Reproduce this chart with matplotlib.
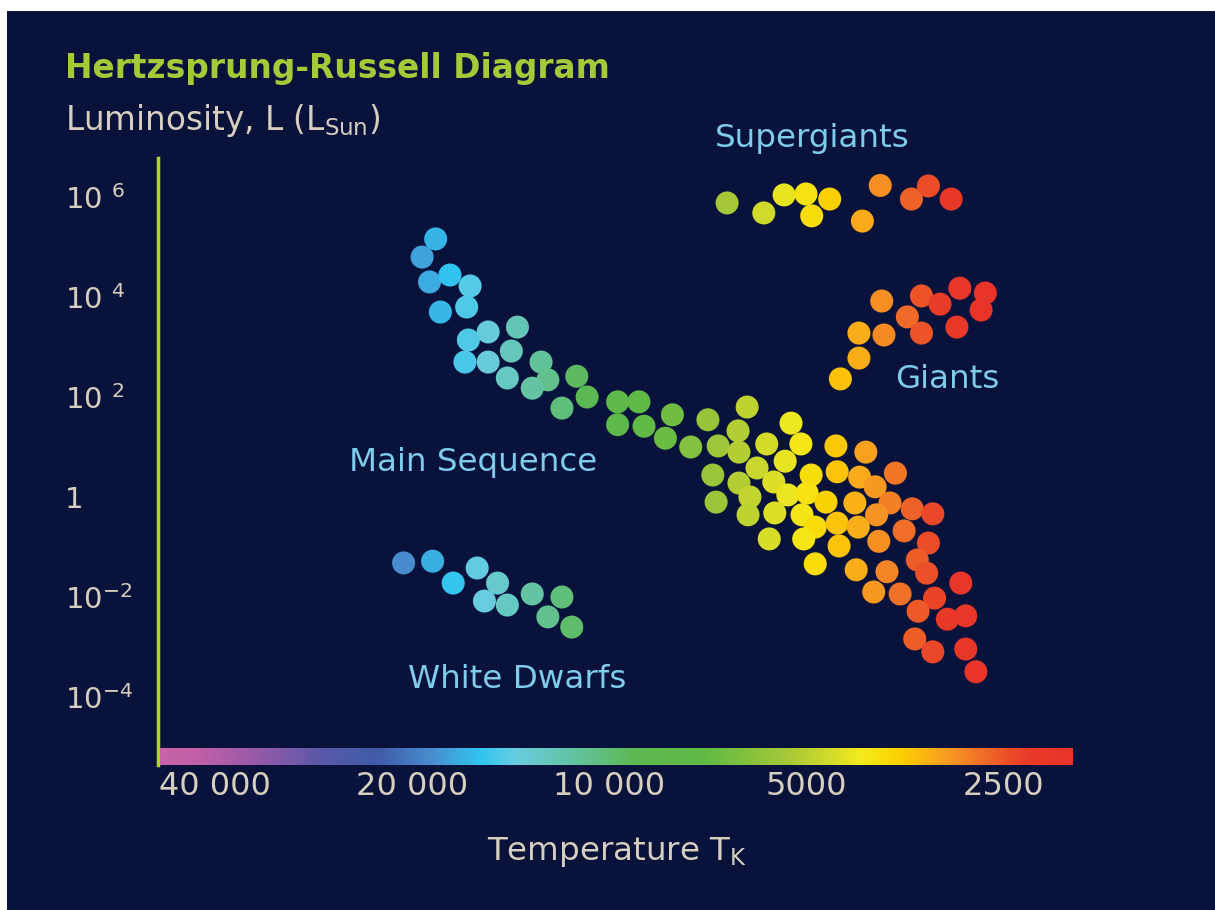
import matplotlib
matplotlib.use('Agg')
import matplotlib.pyplot as plt
from matplotlib.colors import LinearSegmentedColormap, LogNorm
from matplotlib.patches import Rectangle
from matplotlib.ticker import NullLocator
import matplotlib.cm as cm

# star positions: temperature (K) and luminosity (L_sun)
super_temp = [6600, 5800, 5400, 5000, 4900, 4600, 4100, 3850, 3450, 3250, 3000]
super_lum = [7.6e5, 4.8e5, 1.1e6, 1.15e6, 4.2e5, 9.1e5, 3.3e5, 1.7e6, 9.1e5, 1.66e6, 9.1e5]

giant_temp = [3830, 3330, 3120, 2910, 2660, 3500, 2700, 4150, 3800, 3330, 2940, 4150, 4430]
giant_lum = [8300, 1.05e4, 7200, 1.5e4, 1.2e4, 4000, 5500, 1900, 1740, 1900, 2500, 600, 230]

ms_temp = [18400, 19300, 18800, 17500, 16300, 18100, 16500, 15300, 16400, 13800,
           16600, 15300, 14100, 12700, 14300, 12400, 13100, 11200, 10800, 11800,
           9700, 9000, 9700, 8840, 8000, 8200, 7500, 7060, 6150, 6810,
           6350, 6330, 5740, 6940, 6330, 5940, 6090, 6860, 6130, 5690,
           5580, 5270, 5090, 5380, 4500, 4050, 5600, 4910, 4480, 4140,
           3650, 3920, 5330, 4980, 4660, 4210, 3720, 3440, 3200, 5070,
           4840, 4480, 4160, 3900, 3540, 5040, 4450, 3870, 3250, 3380,
           4840, 4190, 3760, 3270, 2900, 3940, 3590, 3180, 3370, 3040,
           2850, 3410, 3200, 2850, 2750]
ms_lum = [1.45e5, 6.3e4, 2.0e4, 2.75e4, 1.66e4, 5000, 6300, 2000, 1380, 2500,
          500, 500, 830, 500, 240, 220, 150, 260, 100, 60,
          80, 80, 28, 26, 44, 15, 10, 35, 63, 10.5,
          21, 7.9, 11.5, 2.75, 1.9, 3.8, 1.0, 0.79, 0.44, 0.145,
          0.48, 30, 11.5, 5.2, 10.5, 7.9, 2.0, 2.75, 3.2, 2.5,
          3.0, 1.6, 1.1, 1.2, 0.79, 0.76, 0.76, 0.58, 0.46, 0.44,
          0.25, 0.30, 0.25, 0.44, 0.21, 0.145, 0.105, 0.13, 0.12, 0.055,
          0.046, 0.035, 0.032, 0.030, 0.019, 0.0126, 0.0115, 0.0095, 0.0052, 0.0036,
          0.0042, 0.00145, 0.0008, 0.00091, 0.00032]

wd_temp = [20600, 18600, 17300, 15900, 14800, 15500, 14300, 13100, 11800, 12400, 11400]
wd_lum = [0.048, 0.052, 0.019, 0.038, 0.019, 0.0083, 0.0069, 0.0115, 0.010, 0.004, 0.0025]

x_ticks = [40000, 20000, 10000, 5000, 2500]
x_labels = ['40 000', '20 000', '10 000', '5000', '2500']
y_ticks = [1e6, 1e4, 1e2, 1, 1e-2, 1e-4]
y_labels = [r'$10^{\;\,6}$', r'$10^{\;\,4}$', r'$10^{\;\,2}$', '1', r'$10^{-2}$', r'$10^{-4}$']

bg = '#09123a'
text_col = '#d6cebe'
green = '#a6c93a'
line_green = '#b2d234'
blue_txt = '#7fcbea'

stops = [(0.00, '#c562a9'), (0.04, '#c060a8'), (0.10, '#9a5aa8'), (0.18, '#5558a8'),
         (0.24, '#3f5ca8'), (0.30, '#4890d0'), (0.35, '#30c4f0'), (0.39, '#68cce0'),
         (0.46, '#62c29a'), (0.52, '#5cb850'), (0.60, '#62ba44'), (0.69, '#a8c838'),
         (0.77, '#f3ea1e'), (0.81, '#fcd200'), (0.86, '#f8a020'), (0.90, '#f07028'),
         (0.95, '#e83a28'), (1.00, '#e83428')]
hr_cmap = LinearSegmentedColormap.from_list('hr', stops).reversed()

W, H = 1215, 910
fig = plt.figure(figsize=(W / 100, H / 100), dpi=100, facecolor='white')
fig.patches.append(Rectangle((7 / W, 0), 1, 1 - 11 / H, transform=fig.transFigure,
                             facecolor=bg, edgecolor='none', zorder=-10))

ax = fig.add_axes([158 / W, 145 / H, 915 / W, 607 / H])
ax.set_facecolor(bg)
ax.set_xscale('log')
ax.set_yscale('log')
ax.set_xlim(48884, 1954)
ax.set_ylim(10 ** -5.36, 10 ** 6.78)

temps = super_temp + giant_temp + ms_temp + wd_temp
lums = super_lum + giant_lum + ms_lum + wd_lum
ax.scatter(temps, lums, c=temps, cmap=hr_cmap, norm=LogNorm(vmin=2663, vmax=48540),
           s=275, linewidths=0, zorder=3)

for side in ['top', 'right', 'bottom']:
    ax.spines[side].set_visible(False)
ax.spines['left'].set_color(line_green)
ax.spines['left'].set_linewidth(2.5)

ax.xaxis.set_minor_locator(NullLocator())
ax.yaxis.set_minor_locator(NullLocator())
ax.set_xticks(x_ticks)
ax.set_xticklabels(x_labels)
ax.set_yticks(y_ticks)
ax.set_yticklabels(y_labels)
ax.tick_params(axis='x', length=0, pad=4, labelsize=23, colors=text_col)
ax.tick_params(axis='y', length=0, pad=67, labelsize=21, colors=text_col)
for lab in ax.get_yticklabels():
    lab.set_horizontalalignment('left')

# gradient bar along the temperature axis
cax = fig.add_axes([160 / W, 145 / H, 913 / W, 17 / H])
sm = cm.ScalarMappable(norm=LogNorm(vmin=1954, vmax=48540), cmap=hr_cmap)
cb = fig.colorbar(sm, cax=cax, orientation='horizontal')
cb.outline.set_visible(False)
cax.invert_xaxis()
cax.tick_params(which='both', length=0, labelbottom=False)

def px(x, y):
    return x / W, 1 - y / H

fig.text(*px(65, 78), 'Hertzsprung-Russell Diagram', color=green, fontsize=23.7,
         fontweight='bold', va='baseline')
fig.text(*px(65, 130), r'Luminosity, L (L$_{\mathrm{Sun}}$)', color=text_col,
         fontsize=23.5, va='baseline')
fig.text(*px(715, 147), 'Supergiants', color=blue_txt, fontsize=23.4, va='baseline')
fig.text(*px(895, 388), 'Giants', color=blue_txt, fontsize=23.4, va='baseline')
fig.text(*px(349, 471), 'Main Sequence', color=blue_txt, fontsize=23.4, va='baseline')
fig.text(*px(408, 688), 'White Dwarfs', color=blue_txt, fontsize=23.4, va='baseline')
fig.text(*px(617, 860), r'Temperature T$_{\mathrm{K}}$', color=text_col, fontsize=23.4,
         va='baseline', ha='center')

plt.savefig('out.png', dpi=100, facecolor=fig.get_facecolor())
